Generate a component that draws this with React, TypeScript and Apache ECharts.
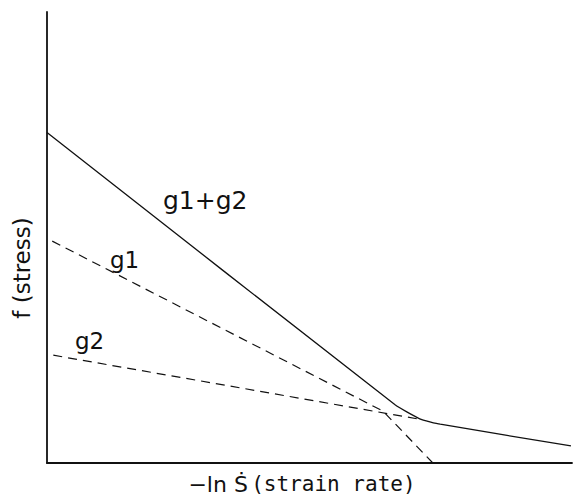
import React, { useEffect, useRef } from "react";
import * as echarts from "echarts";

// Data in arbitrary units (x: 0..100 along -ln S, y: 0..100 stress)
const sumX = [0, 66.3, 71, 74.9, 99.8];
const sumY = [73.3, 12.9, 9.8, 8.6, 3.8];
const g1X = [1, 64, 73.5];
const g1Y = [49.2, 11.5, 0];
const g2X = [1.2, 71.5];
const g2Y = [23.9, 9.6];

const labelSum = "g1+g2";
const labelG1 = "g1";
const labelG2 = "g2";
const yName = "f (stress)";
const xNameMain = "−ln Ṡ";
const xNameSub = "(strain rate)";

const pairs = (xs: number[], ys: number[]) => xs.map((x, i) => [x, ys[i]]);

export default function App() {
  const ref = useRef<HTMLDivElement>(null);
  useEffect(() => {
    if (!ref.current) return;
    const chart = echarts.init(ref.current, null, { renderer: "svg" });
    const ink = "#111";
    chart.setOption({
      animation: false,
      backgroundColor: "#fff",
      grid: { left: 47, top: 12, right: 4, bottom: 39, containLabel: false },
      xAxis: {
        type: "value",
        min: 0,
        max: 100,
        axisLine: { show: true, lineStyle: { color: ink, width: 1.8 } },
        axisTick: { show: false },
        axisLabel: { show: false },
        splitLine: { show: false },
      },
      yAxis: {
        type: "value",
        min: 0,
        max: 100,
        axisLine: { show: true, lineStyle: { color: ink, width: 1.8 } },
        axisTick: { show: false },
        axisLabel: { show: false },
        splitLine: { show: false },
      },
      series: [
        {
          type: "line",
          data: pairs(sumX, sumY),
          symbol: "none",
          smooth: 0.15,
          lineStyle: { color: ink, width: 1.3 },
        },
        {
          type: "line",
          data: pairs(g1X, g1Y),
          symbol: "none",
          lineStyle: { color: ink, width: 1.2, type: [9, 6] },
        },
        {
          type: "line",
          data: pairs(g2X, g2Y),
          symbol: "none",
          lineStyle: { color: ink, width: 1.2, type: [9, 6] },
        },
      ],
      graphic: [
        {
          type: "text",
          left: 163,
          top: 188,
          style: { text: labelSum, fill: ink, font: "25px 'DejaVu Sans'" },
        },
        {
          type: "text",
          left: 110,
          top: 248,
          style: { text: labelG1, fill: ink, font: "23px 'DejaVu Sans'" },
        },
        {
          type: "text",
          left: 75,
          top: 329,
          style: { text: labelG2, fill: ink, font: "23px 'DejaVu Sans'" },
        },
        {
          type: "text",
          x: 22,
          y: 268,
          rotation: Math.PI / 2,
          style: {
            text: yName,
            fill: ink,
            font: "23px 'DejaVu Sans'",
            align: "center",
            verticalAlign: "middle",
          },
        },
        {
          type: "text",
          x: 302,
          y: 484,
          style: {
            text: "{a|" + xNameMain + "} {b|" + xNameSub + "}",
            align: "center",
            verticalAlign: "middle",
            rich: {
              a: { font: "22px 'DejaVu Sans'", fill: ink },
              b: { font: "21px 'DejaVu Sans Mono'", fill: ink },
            },
          },
        },
      ],
    });
    return () => chart.dispose();
  }, []);
  return (
    <div
      ref={ref}
      style={{ position: "fixed", left: 0, top: 0, width: 576, height: 502 }}
    />
  );
}
